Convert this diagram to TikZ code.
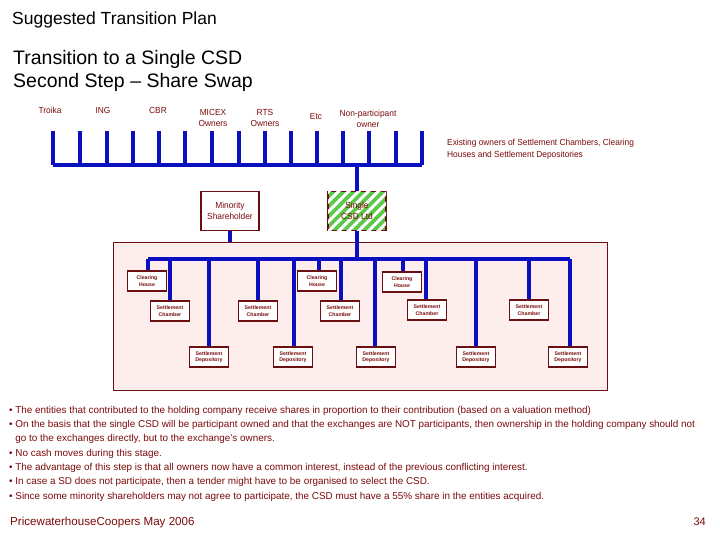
\documentclass[tikz,border=0pt]{standalone}
\usepackage{fontspec}
\setmainfont{Liberation Sans}
\newfontfamily\narrow[FakeStretch=0.95]{Liberation Sans}
\usetikzlibrary{patterns.meta}
\definecolor{mar}{HTML}{6A1010}
\definecolor{txt}{HTML}{7A0A0A}
\definecolor{bl}{HTML}{0A10C0}
\definecolor{pnk}{HTML}{FDEDEC}
\definecolor{grn}{HTML}{5CC84A}
\tikzset{
  bus/.style={draw=bl,line width=3.4pt},
  sbox/.style={draw=mar,line width=1.8pt,fill=white,minimum width=39pt,minimum height=20pt,inner sep=0pt,align=center,font=\fontsize{5.2}{6.4}\selectfont\bfseries,text=txt},
  bbox/.style={draw=mar,line width=1.8pt,minimum width=58pt,minimum height=39pt,inner sep=0pt,align=center,font=\narrow\fontsize{8.8}{11.5}\selectfont,text=txt},
  lab/.style={align=center,font=\narrow\fontsize{8.8}{11.5}\selectfont,text=txt,inner sep=0pt},
}
\begin{document}
\begin{tikzpicture}[x=1pt,y=-1pt]
\useasboundingbox (0,0) rectangle (720,540);
\node[anchor=west,font=\fontsize{17.5}{20}\selectfont,inner sep=0pt] (t1) at (12,20) {Suggested Transition Plan};
\node[anchor=north west,align=left,font=\fontsize{19.5}{23}\selectfont,inner sep=0pt] (t2) at (13,50) {Transition to a Single CSD\\Second Step -- Share Swap};
% top labels
\node[lab] (l1) at (50,110) {Troika};
\node[lab] (l2) at (103,110) {ING};
\node[lab] (l3) at (158,110) {CBR};
\node[lab] (l4) at (213,118) {MICEX\\Owners};
\node[lab] (l5) at (265,118) {RTS\\Owners};
\node[lab] (l6) at (316,117) {Etc};
\node[lab] (l7) at (368,119) {Non-participant\\owner};
\node[lab,align=left,anchor=west] (l8) at (447,149) {Existing owners of Settlement Chambers, Clearing\\Houses and Settlement Depositories};
% top bus
\coordinate (bl) at (53,165); \coordinate (br) at (422,165);
\draw[bus] (bl) -- (br);
\foreach \x in {53,80,107,133,159,185,212,239,265,291,317,343,369,396,422}
  \draw[bus] (\x,131) -- (\x,165);
% panel
\node[draw=mar,line width=1pt,fill=pnk,minimum width=494pt,minimum height=148pt,inner sep=0pt,anchor=north west] (panel) at (113,242) {};
\node[bbox,fill=white] (min) at (230,211) {Minority\\Shareholder};
\node[bbox,fill=grn,postaction={pattern={Lines[angle=45,distance=7pt,line width=3pt]},pattern color=white}] (csd) at (357,211) {Single\\CSD Ltd};
\draw[bus] (min.south) -- (min.south |- panel.north);
\draw[bus] (357,165) -- (csd.north);
\coordinate (j) at (357,259);
\draw[bus] (csd.south) -- (j);
\draw[bus] (148,259) -- (570,259);
% boxes
\node[sbox] (ch1) at (147,281) {Clearing\\House};
\node[sbox] (ch2) at (317,281) {Clearing\\House};
\node[sbox] (ch3) at (402,282) {Clearing\\House};
\node[sbox] (sc1) at (170,311) {Settlement\\Chamber};
\node[sbox] (sc2) at (258,311) {Settlement\\Chamber};
\node[sbox] (sc3) at (340,311) {Settlement\\Chamber};
\node[sbox] (sc4) at (427,310) {Settlement\\Chamber};
\node[sbox] (sc5) at (529,310) {Settlement\\Chamber};
\node[sbox] (sd1) at (209,357) {Settlement\\Depository};
\node[sbox] (sd2) at (293,357) {Settlement\\Depository};
\node[sbox] (sd3) at (376,357) {Settlement\\Depository};
\node[sbox] (sd4) at (476,357) {Settlement\\Depository};
\node[sbox] (sd5) at (568,357) {Settlement\\Depository};
\foreach \n/\x in {ch1/148,ch2/319,ch3/403,sc1/170,sc2/258,sc3/341,sc4/426,sc5/529,sd1/209,sd2/294,sd3/375,sd4/476,sd5/570}
  \draw[bus] (\x,259) -- (\x,0 |- \n.north);
% bullets
\node[anchor=north west,align=left,inner sep=0pt,text=txt,font=\fontsize{9.9}{14.3}\selectfont] (bul) at (9,406) {%
\textbullet\ The entities that contributed to the holding company receive shares in proportion to their contribution (based on a valuation method)\\
\textbullet\ On the basis that the single CSD will be participant owned and that the exchanges are NOT participants, then ownership in the holding company should not\\
\phantom{\textbullet\ }go to the exchanges directly, but to the exchange's owners.\\
\textbullet\ No cash moves during this stage.\\
\textbullet\ The advantage of this step is that all owners now have a common interest, instead of the previous conflicting interest.\\
\textbullet\ In case a SD does not participate, then a tender might have to be organised to select the CSD.\\
\textbullet\ Since some minority shareholders may not agree to participate, the CSD must have a 55\% share in the entities acquired.};
\node[anchor=west,text=txt,font=\fontsize{11.6}{13}\selectfont,inner sep=0pt] (ft) at (10,522) {PricewaterhouseCoopers May 2006};
\node[anchor=east,text=txt,font=\fontsize{11}{13}\selectfont,inner sep=0pt] (pg) at (706,522) {34};
\end{tikzpicture}
\end{document}
